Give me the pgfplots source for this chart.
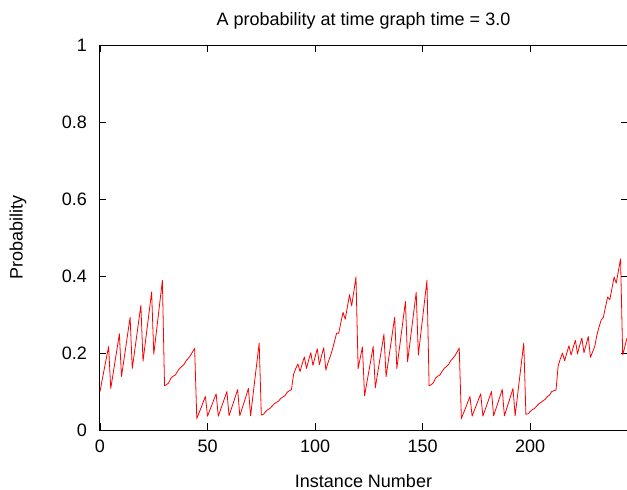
\documentclass[border=0pt]{standalone}
\usepackage{pgfplots}
\pgfplotsset{compat=1.18}
\usepackage{fontspec}
\setmainfont{Liberation Sans}
\newcommand{\chartfont}{\fontsize{18bp}{21bp}\selectfont}
\begin{document}
\chartfont
\begin{tikzpicture}
\path[use as bounding box] (-100bp,-60bp) rectangle (527bp,430bp);
\begin{axis}[
  scale only axis, width=527bp, height=384.5bp,
  xmin=0, xmax=245, ymin=0, ymax=1,
  xtick={0,50,100,150,200}, ytick={0,0.2,0.4,0.6,0.8,1},
  tick align=inside, xtick pos=both, ytick pos=both,
  major tick length=6.5bp,
  minor tick num=0,
  axis line style={line width=1bp, black},
  every tick/.style={black, line width=0.8bp},
  /pgf/number format/assume math mode=true,
  yticklabel style={/pgf/number format/fixed, font=\chartfont, xshift=-7bp},
  xticklabel style={font=\chartfont, yshift=-4bp},
  every axis title/.style={at={(axis description cs:0.5,1)}, anchor=base, yshift=20bp, font=\chartfont},
  every axis x label/.style={at={(axis description cs:0.5,0)}, anchor=base, yshift=-57bp, font=\chartfont},
  every axis y label/.style={at={(axis description cs:-0.1556,0.5)}, rotate=90, anchor=center, font=\chartfont},
  title={A probability at time graph time = 3.0},
  xlabel={Instance Number},
  ylabel={Probability},
]
\addplot[red, line width=0.8bp, line join=round] table {
x y
0 0.100
1 0.130
2 0.159
3 0.188
4 0.217
5 0.108
6 0.143
7 0.179
8 0.214
9 0.250
10 0.139
11 0.178
12 0.216
13 0.255
14 0.293
15 0.160
16 0.201
17 0.242
18 0.283
19 0.324
20 0.179
21 0.224
22 0.269
23 0.314
24 0.359
25 0.197
26 0.245
27 0.293
28 0.341
29 0.389
30 0.115
31 0.118
32 0.123
33 0.135
34 0.140
35 0.143
36 0.152
37 0.160
38 0.165
39 0.170
40 0.180
41 0.186
42 0.193
43 0.203
44 0.212
45 0.030
46 0.044
47 0.058
48 0.073
49 0.087
50 0.036
51 0.051
52 0.065
53 0.080
54 0.094
55 0.036
56 0.052
57 0.068
58 0.084
59 0.100
60 0.037
61 0.054
62 0.071
63 0.088
64 0.105
65 0.037
66 0.055
67 0.072
68 0.090
69 0.108
70 0.037
71 0.084
72 0.132
73 0.179
74 0.226
75 0.039
76 0.041
77 0.048
78 0.053
79 0.056
80 0.062
81 0.068
82 0.072
83 0.075
84 0.082
85 0.086
86 0.089
87 0.098
88 0.102
89 0.105
90 0.145
91 0.160
92 0.172
93 0.152
94 0.172
95 0.190
96 0.160
97 0.182
98 0.201
99 0.168
100 0.190
101 0.211
102 0.170
103 0.193
104 0.214
105 0.156
106 0.175
107 0.191
108 0.208
109 0.230
110 0.252
111 0.252
112 0.280
113 0.306
114 0.288
115 0.320
116 0.352
117 0.323
118 0.360
119 0.398
120 0.160
121 0.188
122 0.216
123 0.089
124 0.121
125 0.153
126 0.185
127 0.217
128 0.110
129 0.145
130 0.180
131 0.214
132 0.249
133 0.139
134 0.178
135 0.216
136 0.255
137 0.293
138 0.160
139 0.204
140 0.247
141 0.291
142 0.334
143 0.178
144 0.223
145 0.268
146 0.313
147 0.358
148 0.195
149 0.244
150 0.292
151 0.341
152 0.389
153 0.115
154 0.118
155 0.123
156 0.135
157 0.140
158 0.143
159 0.152
160 0.160
161 0.165
162 0.170
163 0.180
164 0.186
165 0.193
166 0.203
167 0.213
168 0.030
169 0.044
170 0.058
171 0.073
172 0.087
173 0.036
174 0.051
175 0.065
176 0.080
177 0.094
178 0.036
179 0.052
180 0.068
181 0.084
182 0.100
183 0.037
184 0.054
185 0.071
186 0.088
187 0.106
188 0.037
189 0.055
190 0.072
191 0.090
192 0.108
193 0.037
194 0.084
195 0.132
196 0.179
197 0.226
198 0.041
199 0.042
200 0.048
201 0.053
202 0.056
203 0.062
204 0.068
205 0.072
206 0.076
207 0.080
208 0.087
209 0.091
210 0.100
211 0.102
212 0.104
213 0.167
214 0.185
215 0.200
216 0.180
217 0.200
218 0.219
219 0.195
220 0.215
221 0.233
222 0.198
223 0.220
224 0.239
225 0.201
226 0.222
227 0.243
228 0.189
229 0.203
230 0.217
231 0.247
232 0.268
233 0.286
234 0.293
235 0.320
236 0.346
237 0.339
238 0.368
239 0.398
240 0.382
241 0.414
242 0.445
243 0.195
244 0.217
245 0.239
};
\end{axis}
\end{tikzpicture}
\end{document}
